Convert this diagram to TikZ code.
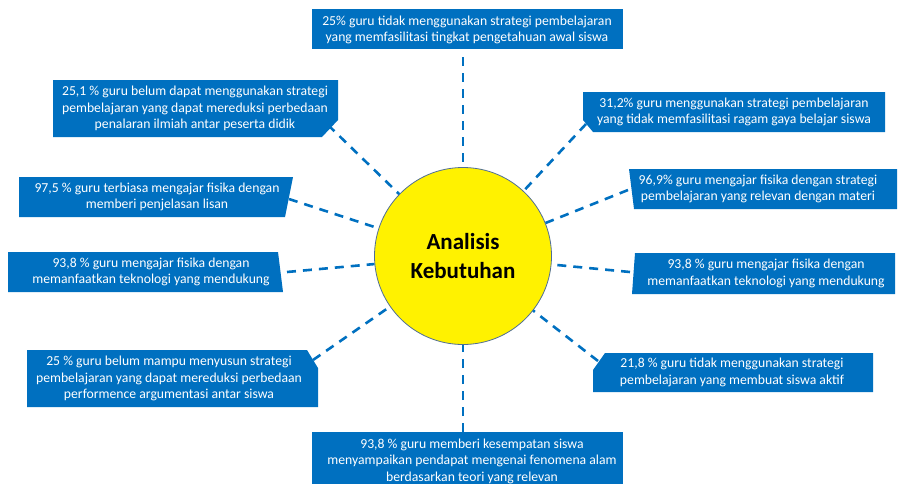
\documentclass[tikz,border=0pt]{standalone}
\usepackage{fontspec}
\setmainfont{Carlito}
\definecolor{boxblue}{RGB}{0,112,192}
\definecolor{ringc}{RGB}{80,110,150}
\tikzset{
  boxshape/.style={fill=boxblue},
  boxtext/.style={text=white, align=center, inner sep=0pt, font=\fontsize{13.7}{16.5}\selectfont},
  conn/.style={draw=boxblue, line width=2.6pt, dash pattern=on 9pt off 7pt},
  hub/.style={circle, fill=yellow, draw=ringc, line width=0.8pt, minimum size=177pt, inner sep=0pt, align=center, font=\fontsize{23}{29}\selectfont\bfseries}
}
\begin{document}
\begin{tikzpicture}[x=1pt,y=-1pt]
\useasboundingbox (0,0) rectangle (900,483);
\begin{scope}
\clip (0,0) rectangle (900,483);
% box shapes
\fill[boxshape] (312,9) -- (623,9) -- (623,49) -- (312,49) -- cycle;
\fill[boxshape] (53,80) -- (338,80) -- (338,120) -- (322,137) -- (53,137) -- cycle;
\fill[boxshape] (583,92) -- (885,92) -- (885,132) -- (593,132) -- (583,120) -- cycle;
\fill[boxshape] (19,177) -- (293,177) -- (285,217) -- (19,217) -- cycle;
\fill[boxshape] (629,169) -- (897,169) -- (897,209) -- (634,209) -- cycle;
\fill[boxshape] (8,252) -- (278,252) -- (283,292) -- (8,292) -- cycle;
\fill[boxshape] (635,253) -- (895,253) -- (895,294) -- (632,294) -- cycle;
\fill[boxshape] (27,350) -- (307,350) -- (318,368) -- (318,407) -- (27,407) -- cycle;
\fill[boxshape] (605,353) -- (873,353) -- (873,392) -- (593,392) -- (593,370) -- cycle;
\fill[boxshape] (312,432) -- (623,432) -- (623,495) -- (312,495) -- cycle;
\end{scope}
% hub
\node[hub] (c) at (463,256) {Analisis\\Kebutuhan};
% texts
\node[boxtext] (t1) at (467,30) {25\% guru tidak menggunakan strategi pembelajaran\\yang memfasilitasi tingkat pengetahuan awal siswa};
\node[boxtext] (t2) at (195,108.5) {25,1 \% guru belum dapat menggunakan strategi\\pembelajaran yang dapat mereduksi perbedaan\\penalaran ilmiah antar peserta didik};
\node[boxtext] (t3) at (734,112) {31,2\% guru menggunakan strategi pembelajaran\\yang tidak memfasilitasi ragam gaya belajar siswa};
\node[boxtext] (t4) at (157,197) {97,5 \% guru terbiasa mengajar fisika dengan\\memberi penjelasan lisan};
\node[boxtext] (t5) at (758,189) {96,9\% guru mengajar fisika dengan strategi\\pembelajaran yang relevan dengan materi};
\node[boxtext] (t6) at (151,272) {93,8 \% guru mengajar fisika dengan\\memanfaatkan teknologi yang mendukung};
\node[boxtext] (t7) at (766,273.5) {93,8 \% guru mengajar fisika dengan\\memanfaatkan teknologi yang mendukung};
\node[boxtext] (t8) at (169,378.5) {25 \% guru belum mampu menyusun strategi\\pembelajaran yang dapat mereduksi perbedaan\\performence argumentasi antar siswa};
\node[boxtext] (t9) at (732,372.5) {21,8 \% guru tidak menggunakan strategi\\pembelajaran yang membuat siswa aktif};
\node[boxtext] (t10) at (472,461) {93,8 \% guru memberi kesempatan siswa\\menyampaikan pendapat mengenai fenomena alam\\berdasarkan teori yang relevan};
% connector start points
\coordinate (s1) at (463,57);
\coordinate (s2) at (328,125);
\coordinate (s3) at (586,124);
\coordinate (s4) at (289,199);
\coordinate (s5) at (628,190);
\coordinate (s6) at (287,272);
\coordinate (s7) at (630,272);
\coordinate (s8) at (313,360);
\coordinate (s9) at (598,361);
\coordinate (s10) at (463,432);
\foreach \i in {1,...,10} {\draw[conn] (s\i) -- (c);}
\end{tikzpicture}
\end{document}
